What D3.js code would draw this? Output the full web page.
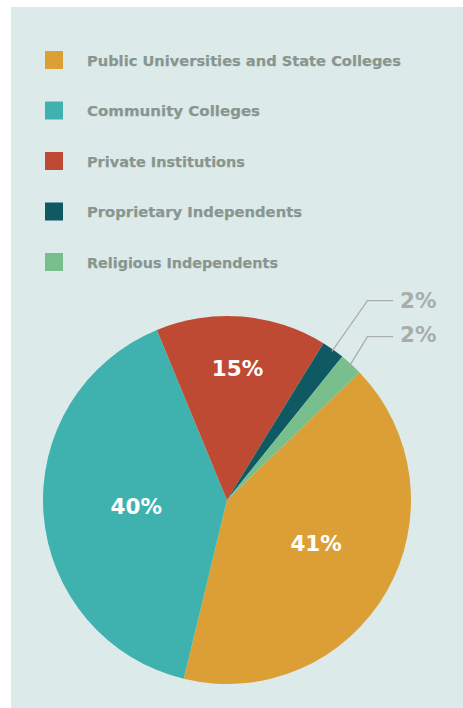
<!DOCTYPE html>
<html>
<head>
<meta charset="utf-8">
<script src="https://cdn.jsdelivr.net/npm/d3@7"></script>
<style>
  html, body { margin: 0; padding: 0; background: #ffffff; }
  svg { display: block; }
</style>
</head>
<body>
<svg id="chart" width="463" height="708"></svg>
<script>
// ---- data ----
const categories = [
  "Public Universities and State Colleges",
  "Community Colleges",
  "Private Institutions",
  "Proprietary Independents",
  "Religious Independents"
];
const shares = [41, 40, 15, 2, 2];
const shareLabels = ["41%", "40%", "15%", "2%", "2%"];
const colors = ["#dc9f36", "#3fb2b0", "#bf4a33", "#0f5962", "#79bf8e"];

// ---- layout ----
const W = 463, H = 708;
const svg = d3.select("#chart");
const fontFam = "'DejaVu Sans', 'Open Sans', sans-serif";

svg.append("rect").attr("x", 11).attr("y", 7).attr("width", W - 11).attr("height", H - 7)
  .attr("fill", "#dcebea");

// legend
const legendTargetWidths = [314, 173, 158, 215, 191];
const lg = svg.append("g");
categories.forEach((c, i) => {
  const y0 = 51 + i * 50.5;
  lg.append("rect").attr("x", 45).attr("y", y0).attr("width", 18).attr("height", 18).attr("fill", colors[i]);
  lg.append("text").attr("x", 87).attr("y", y0 + 14.5)
    .attr("font-family", fontFam).attr("font-weight", "bold").attr("font-size", 14.8)
    .attr("fill", "#899690")
    .attr("stroke", "#899690").attr("stroke-width", 0.25)
    .attr("textLength", legendTargetWidths[i]).attr("lengthAdjust", "spacingAndGlyphs")
    .text(c);
});

// pie
const cx = 227, cy = 500, R = 184;
const startDeg = 46;
const pie = d3.pie().sort(null).value(d => d)
  .startAngle(startDeg * Math.PI / 180).endAngle((startDeg + 360) * Math.PI / 180);
const arcs = pie(shares);
const arc = d3.arc().innerRadius(0).outerRadius(R);
const g = svg.append("g").attr("transform", `translate(${cx},${cy})`);
g.selectAll("path").data(arcs).enter().append("path")
  .attr("d", arc).attr("fill", (d, i) => colors[i]);

// inside labels
const labelRadius = [99, 91, 132];
arcs.forEach((d, i) => {
  if (i > 2) return;
  const a = (d.startAngle + d.endAngle) / 2 + (i === 0 ? -0.07 : 0);
  const r = labelRadius[i];
  g.append("text")
    .attr("x", r * Math.sin(a)).attr("y", -r * Math.cos(a))
    .attr("text-anchor", "middle").attr("dominant-baseline", "central")
    .attr("font-family", fontFam).attr("font-weight", "bold").attr("font-size", 21.5)
    .attr("fill", "#ffffff")
    .text(shareLabels[i]);
});

// outside labels with leader lines
const elbowY = [-199.3, -163.3];
const textY = [-191.8, -158.4];
[3, 4].forEach((i, k) => {
  const d = arcs[i];
  const a = (d.startAngle + d.endAngle) / 2;
  const r = R - 2;
  const p0 = [r * Math.sin(a), -r * Math.cos(a)];
  const ey = elbowY[k];
  const ex = 140.5;
  g.append("polyline")
    .attr("points", [p0, [ex, ey], [166, ey]].map(p => p.join(",")).join(" "))
    .attr("fill", "none").attr("stroke", "#a9aeab").attr("stroke-width", 1.3);
  g.append("text").attr("x", 173).attr("y", textY[k])
    .attr("font-family", fontFam).attr("font-weight", "bold").attr("font-size", 21.5)
    .attr("fill", "#a8adaa")
    .text(shareLabels[i]);
});
</script>
</body>
</html>
